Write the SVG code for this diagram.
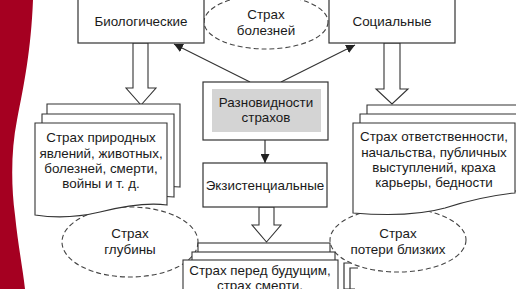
<svg xmlns="http://www.w3.org/2000/svg" width="516" height="289" viewBox="0 0 516 289">
<defs>
<style>
.box{fill:#fff;stroke:#333;stroke-width:1.2}
.sheet{fill:#fff;stroke:#333;stroke-width:1.1}
.ell{fill:#fff;stroke:#444;stroke-width:1.1;stroke-dasharray:5,3}
.ln{fill:none;stroke:#333;stroke-width:1.2}
.blk{fill:#fff;stroke:#333;stroke-width:1.1}
text{font-family:"Liberation Sans",Arial,sans-serif;font-size:13.4px;fill:#1a1a1a;text-anchor:middle}
</style>
<marker id="ah" viewBox="0 0 10 10" refX="10" refY="5" markerWidth="9" markerHeight="9" markerUnits="userSpaceOnUse" orient="auto">
<path d="M0,0 L10,5 L0,10 Z" fill="#222"/>
</marker>
</defs>
<rect x="0" y="0" width="516" height="289" fill="#fff"/>
<path d="M0,0 H33 C31,50 24,85 17,120 C11,150 11,185 15,215 C18,245 23,270 25,289 H0 Z" fill="#a50021"/>

<g id="hidden-sheets">
<polyline class="ln" points="350,289 344,289 344,263 352,263" stroke-width="1"/>
<polyline class="ln" points="355,289 350,289 350,268 358,268" stroke-width="1"/>
</g>

<g id="ell-bolezney">
<ellipse class="ell" cx="266" cy="22" rx="62" ry="27"/>
<text x="266" y="19">Страх</text>
<text x="266" y="35">болезней</text>
</g>
<g id="ell-glubiny">
<ellipse class="ell" cx="130" cy="242" rx="68" ry="35"/>
<text x="130" y="238">Страх</text>
<text x="130" y="254">глубины</text>
</g>
<g id="ell-poteri">
<ellipse class="ell" cx="398" cy="240" rx="68" ry="32"/>
<text x="398" y="238">Страх</text>
<text x="398" y="254">потери близких</text>
</g>

<g id="connectors">
<line class="ln" x1="250" y1="82" x2="174" y2="44" marker-end="url(#ah)"/>
<line class="ln" x1="281" y1="82" x2="355" y2="45" marker-end="url(#ah)"/>
<line class="ln" x1="265" y1="140" x2="265" y2="163" marker-end="url(#ah)"/>
<polygon class="blk" points="133,43 148,43 148,88 156,88 141,105 126,88 133,88"/>
<polygon class="blk" points="384,43 400,43 400,89 408,89 392,104 376,89 384,89"/>
<polygon class="blk" points="259,207 274,207 274,225 281,225 266.5,242 252,225 259,225"/>
</g>

<g id="biologicheskie">
<rect class="box" x="78" y="-1" width="126" height="44"/>
<text x="141" y="26">Биологические</text>
</g>
<g id="socialnye">
<rect class="box" x="329" y="-1" width="126" height="44"/>
<text x="392" y="26">Социальные</text>
</g>
<g id="raznovidnosti">
<rect class="box" x="203" y="82" width="125" height="58"/>
<rect x="212" y="89" width="109" height="43" fill="#d4d4d4"/>
<text x="266" y="107">Разновидности</text>
<text x="266" y="122">страхов</text>
</g>
<g id="ekzistencialnye">
<rect class="box" x="203" y="163" width="124" height="44"/>
<text x="265" y="190">Экзистенциальные</text>
</g>

<g id="stack-bio">
<path class="sheet" d="M47,104 H180 V187 C165,185 150,188 140,190 L47,190 Z"/>
<path class="sheet" d="M42,114 H174 V197 C160,195 148,198 135,200 L42,200 Z"/>
<path class="sheet" d="M35,123 H167 V205 C145,202 120,207 100,212 C75,218 55,218 35,215 Z"/>
<text x="101" y="142">Страх природных</text>
<text x="101" y="158">явлений, животных,</text>
<text x="101" y="173">болезней, смерти,</text>
<text x="101" y="188">войны и т. д.</text>
</g>

<g id="stack-soc">
<path class="sheet" d="M367,105 H520 V185 H367 Z"/>
<path class="sheet" d="M360,114 H520 V191 H360 Z"/>
<path class="sheet" d="M353,123 H515 V193 C495,195 470,200 445,208 C420,215 390,216 353,213 Z"/>
<text x="434" y="141">Страх ответственности,</text>
<text x="434" y="157">начальства, публичных</text>
<text x="434" y="172">выступлений, краха</text>
<text x="434" y="187">карьеры, бедности</text>
</g>

<g id="stack-ekz">
<rect class="sheet" x="198" y="243" width="132" height="50"/>
<rect class="sheet" x="192" y="252" width="143" height="50"/>
<rect class="sheet" x="183" y="260" width="155" height="40"/>
<text x="260" y="275">Страх перед будущим,</text>
<text x="260" y="290">страх смерти,</text>
</g>
</svg>
